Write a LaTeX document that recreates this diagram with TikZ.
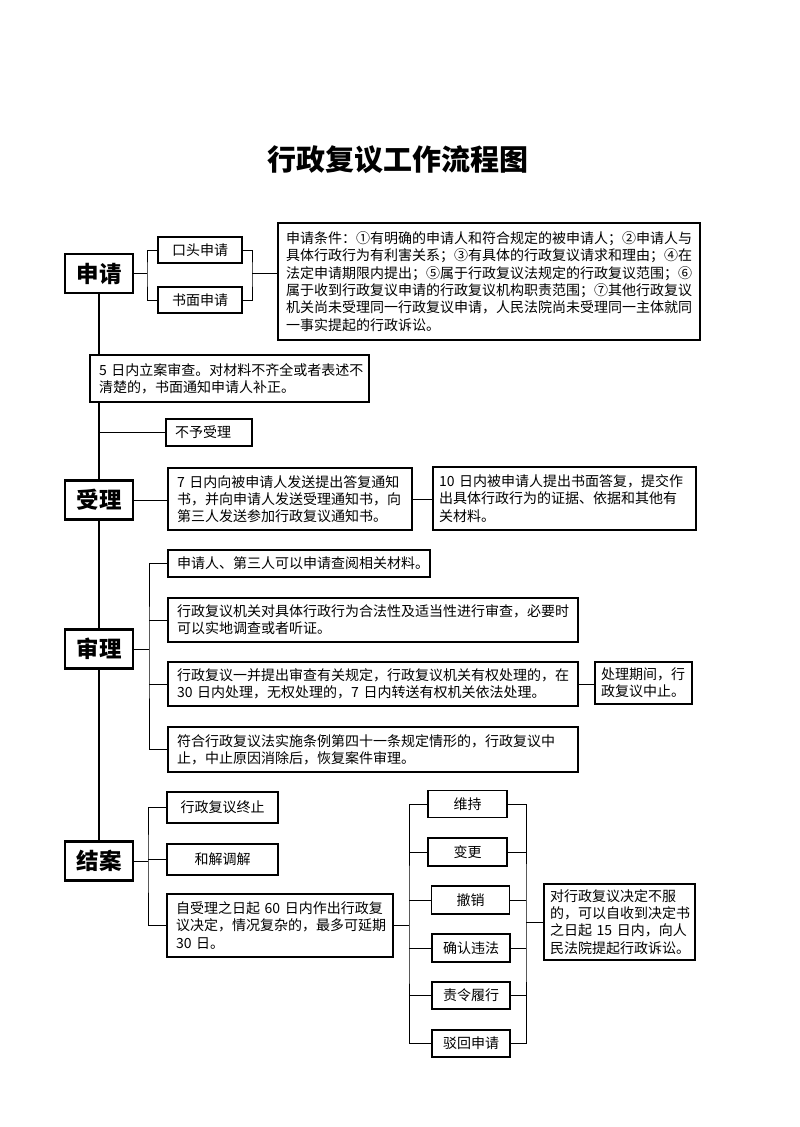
\documentclass[tikz,border=0pt]{standalone}
\usepackage{fontspec}
\setmainfont{Noto Sans CJK SC}
\usetikzlibrary{backgrounds}

\begin{document}
\begin{tikzpicture}[x=1pt, y=-1pt,
    stage/.style={draw, fill=white, line width=2.2pt, font=\fontsize{22.5}{26}\selectfont\bfseries, minimum width=68pt, minimum height=39pt, inner sep=0pt},
    tag/.style={draw, fill=white, line width=1.3pt, font=\fontsize{14}{17.3}\selectfont, minimum width=79pt, minimum height=27pt, inner sep=0pt},
    note/.style={draw, fill=white, line width=1.3pt, font=\fontsize{14}{17.3}\selectfont, align=left, inner xsep=9pt, inner ysep=2pt},
    link/.style={line width=1pt},
    spine/.style={line width=1.8pt}]
    \useasboundingbox (0,0) rectangle (800,1127);

    \node[font=\fontsize{29}{34}\selectfont\bfseries] (title) at (398,160) {行政复议工作流程图};

    % stages
    \node[stage] (shenqing) at (99,273.5) {申请};
    \node[stage] (shouli) at (99,500) {受理};
    \node[stage] (shenli) at (99,649) {审理};
    \node[stage] (jiean) at (99,861) {结案};

    % apply
    \node[tag, minimum width=84pt, minimum height=26pt] (koutou) at (200,250) {口头申请};
    \node[tag, minimum width=84pt, minimum height=26pt] (shumian) at (200,300) {书面申请};
    \node[note, inner xsep=8pt, text width=406pt, minimum height=117pt] (tiaojian) at (489,281.5) {申请条件：①有明确的申请人和符合规定的被申请人；②申请人与\\具体行政行为有利害关系；③有具体的行政复议请求和理由；④在\\法定申请期限内提出；⑤属于行政复议法规定的行政复议范围；⑥\\属于收到行政复议申请的行政复议机构职责范围；⑦其他行政复议\\机关尚未受理同一行政复议申请，人民法院尚未受理同一主体就同\\一事实提起的行政诉讼。};

    % accept
    \node[note, text width=261pt, minimum height=47pt] (wuri) at (229.5,378.5) {5 日内立案审查。对材料不齐全或者表述不\\清楚的，书面通知申请人补正。};
    \node[note, text width=68pt, minimum height=27pt] (buyu) at (209,432.5) {不予受理};
    \node[note, text width=226pt, minimum height=62pt] (qiri) at (290,499) {7 日内向被申请人发送提出答复通知\\书，并向申请人发送受理通知书，向\\第三人发送参加行政复议通知书。};
    \node[note, inner xsep=6pt, text width=251pt, minimum height=63pt] (shiri) at (564.5,498.5) {10 日内被申请人提出书面答复，提交作\\出具体行政行为的证据、依据和其他有\\关材料。};

    % review
    \node[note, text width=244pt, minimum height=27pt] (s1) at (299,563.5) {申请人、第三人可以申请查阅相关材料。};
    \node[note, text width=392pt, minimum height=44pt] (s2) at (373,620) {行政复议机关对具体行政行为合法性及适当性进行审查，必要时\\可以实地调查或者听证。};
    \node[note, text width=392pt, minimum height=44pt] (s3) at (373,684) {行政复议一并提出审查有关规定，行政复议机关有权处理的，在\\30 日内处理，无权处理的，7 日内转送有权机关依法处理。};
    \node[note, inner xsep=6pt, text width=85pt, minimum height=42pt] (qijian) at (643.5,683) {处理期间，行\\政复议中止。};
    \node[note, text width=392pt, minimum height=45pt] (s4) at (373,749.5) {符合行政复议法实施条例第四十一条规定情形的，行政复议中\\止，中止原因消除后，恢复案件审理。};

    % close
    \node[tag, minimum width=111pt, minimum height=31pt] (zhongjie) at (222.5,807.5) {行政复议终止};
    \node[tag, minimum width=111pt, minimum height=31pt] (hejie) at (222.5,859.5) {和解调解};
    \node[note, text width=208pt, minimum height=63pt] (zishouli) at (280,925.5) {自受理之日起 60 日内作出行政复\\议决定，情况复杂的，最多可延期\\30 日。};
    \node[tag] (weichi) at (467.5,804) {维持};
    \node[tag, minimum height=28pt] (biangeng) at (467.5,852) {变更};
    \node[tag, minimum width=78pt, minimum height=28pt] (chexiao) at (470.5,900) {撤销};
    \node[tag, minimum width=78pt, minimum height=28pt] (queren) at (471,948) {确认违法};
    \node[tag, minimum width=78pt] (zeling) at (471,995.5) {责令履行};
    \node[tag, minimum width=78pt] (bohui) at (471,1043.5) {驳回申请};
    \node[note, inner xsep=6pt, text width=139pt, minimum height=76pt] (susong) at (619.5,922) {对行政复议决定不服\\的，可以自收到决定书\\之日起 15 日内，向人\\民法院提起行政诉讼。};

    \coordinate (sq1) at (147,273.5);
    \coordinate (sq2) at (252,273.5);
    \coordinate (sl) at (149,649);
    \coordinate (ja) at (148,861);
    \coordinate (jd) at (409,925.5);
    \coordinate (ss) at (526,922);

    \begin{scope}[on background layer]
        \draw[spine] (shenqing) -- (jiean);

        \draw[link] (shenqing.east) -- (sq1);
        \draw[link] (koutou.west) -| (sq1) |- (shumian.west);
        \draw[link] (koutou.east) -| (sq2) |- (shumian.east);
        \draw[link] (sq2) -- (sq2 -| tiaojian.west);

        \draw[link] (buyu.west -| shenqing) -- (buyu.west);
        \draw[link] (shouli.east) -- (shouli.east -| qiri.west);
        \draw[link] (qiri.east) -- (qiri.east -| shiri.west);

        \draw[link] (shenli.east) -- (sl);
        \draw[link] (s1.west) -| (sl) |- (s4.west);
        \draw[link] (s2.west) -- (s2.west -| sl);
        \draw[link] (s3.west) -- (s3.west -| sl);
        \draw[link] (s3.east) -- (s3.east -| qijian.west);

        \draw[link] (jiean.east) -- (ja);
        \draw[link] (zhongjie.west) -| (ja) |- (zishouli.west);
        \draw[link] (hejie.west) -- (hejie.west -| ja);

        \draw[link] (zishouli.east) -- (jd);
        \draw[link] (weichi.west) -| (jd) |- (bohui.west);
        \draw[link] (weichi.east) -| (ss) |- (bohui.east);
        \foreach \n in {biangeng, chexiao, queren, zeling} {
            \draw[link] (\n.west) -- (\n.west -| jd);
            \draw[link] (\n.east) -- (\n.east -| ss);
        }
        \draw[link] (ss) -- (susong.west);
    \end{scope}
\end{tikzpicture}
\end{document}
